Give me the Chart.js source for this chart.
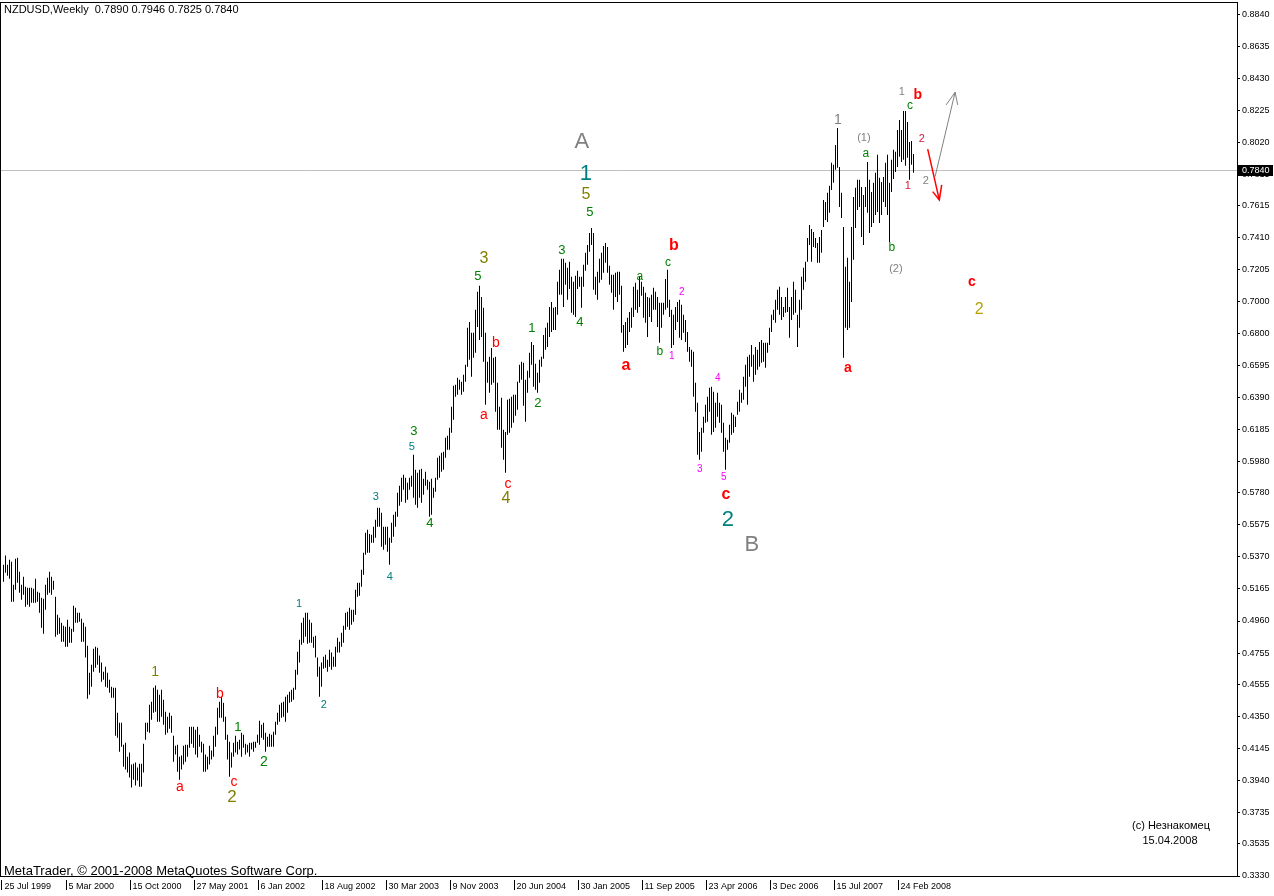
<!DOCTYPE html>
<html><head><meta charset="utf-8">
<script src="https://cdn.jsdelivr.net/npm/chart.js@4/dist/chart.umd.min.js"></script>
<style>html,body{margin:0;padding:0;background:#fff;overflow:hidden}#wrap{width:1274px;height:896px}</style>
</head><body><div id="wrap"><canvas id="c" width="1274" height="896"></canvas></div>
<script>
const headerText = 'NZDUSD,Weekly  0.7890 0.7946 0.7825 0.7840';
const copyrightText = 'MetaTrader, \u00A9 2001-2008 MetaQuotes Software Corp.';
const authorText = ['(c) Незнакомец', '15.04.2008'];
const lastPrice = 0.7840;

const highs = [
0.5320,0.5378,0.5320,0.5352,0.5339,0.5192,0.5358,0.5365,0.5275,0.5192,
0.5243,0.5179,0.5173,0.5173,0.5173,0.5166,0.5230,0.5147,0.5141,0.5109,
0.5102,0.5192,0.5237,0.5275,0.5243,0.5218,0.5115,0.5000,0.4981,0.4949,
0.4930,0.4923,0.4968,0.4923,0.4910,0.5058,0.5045,0.5013,0.5013,0.4974,
0.4949,0.4923,0.4802,0.4630,0.4681,0.4782,0.4795,0.4789,0.4739,0.4694,
0.4636,0.4668,0.4630,0.4585,0.4540,0.4534,0.4534,0.4374,0.4310,0.4310,
0.4169,0.4182,0.4093,0.4119,0.4042,0.4048,0.4055,0.4023,0.4048,0.4048,
0.4175,0.4310,0.4310,0.4425,0.4444,0.4534,0.4547,0.4521,0.4489,0.4521,
0.4457,0.4380,0.4348,0.4374,0.4355,0.4227,0.4163,0.4169,0.4093,0.4100,
0.4163,0.4169,0.4169,0.4284,0.4284,0.4284,0.4265,0.4284,0.4233,0.4188,
0.4175,0.4106,0.4093,0.4163,0.4132,0.4227,0.4284,0.4406,0.4444,0.4476,
0.4438,0.4348,0.4233,0.4188,0.4119,0.4182,0.4227,0.4188,0.4201,0.4246,
0.4233,0.4175,0.4169,0.4182,0.4182,0.4188,0.4188,0.4233,0.4323,0.4297,
0.4310,0.4246,0.4220,0.4239,0.4233,0.4252,0.4316,0.4374,0.4425,0.4438,
0.4444,0.4476,0.4489,0.4508,0.4521,0.4534,0.4649,0.4764,0.4840,0.4949,
0.4981,0.5013,0.5013,0.4968,0.4949,0.4859,0.4866,0.4726,0.4668,0.4694,
0.4732,0.4745,0.4713,0.4777,0.4758,0.4732,0.4795,0.4853,0.4827,0.4885,
0.4930,0.5013,0.5019,0.5045,0.5032,0.5032,0.5160,0.5205,0.5205,0.5288,
0.5397,0.5524,0.5543,0.5517,0.5511,0.5562,0.5607,0.5684,0.5684,0.5652,
0.5562,0.5562,0.5562,0.5492,0.5588,0.5639,0.5658,0.5780,0.5825,0.5876,
0.5895,0.5876,0.5844,0.5876,0.5889,0.6023,0.5927,0.5908,0.5927,0.5933,
0.5869,0.5914,0.5863,0.5850,0.5869,0.5812,0.5876,0.6004,0.6017,0.6036,
0.6042,0.6131,0.6144,0.6195,0.6329,0.6464,0.6470,0.6515,0.6502,0.6489,
0.6534,0.6598,0.6834,0.6872,0.6802,0.6802,0.6949,0.7064,0.7103,0.7032,
0.6962,0.6802,0.6617,0.6649,0.6706,0.6643,0.6649,0.6483,0.6329,0.6387,
0.6182,0.6169,0.6374,0.6380,0.6393,0.6406,0.6406,0.6489,0.6598,0.6617,
0.6611,0.6502,0.6560,0.6675,0.6744,0.6725,0.6604,0.6547,0.6630,0.6649,
0.6789,0.6834,0.6866,0.6968,0.7000,0.6962,0.6968,0.7128,0.7205,0.7275,
0.7275,0.7250,0.7218,0.7256,0.7160,0.7128,0.7167,0.7199,0.7160,0.7160,
0.7237,0.7314,0.7364,0.7441,0.7473,0.7441,0.7160,0.7192,0.7275,0.7314,
0.7358,0.7377,0.7351,0.7231,0.7173,0.7173,0.7186,0.7192,0.7192,0.7103,
0.6853,0.6872,0.6898,0.6936,0.6962,0.7096,0.7122,0.7077,0.7160,0.7128,
0.7096,0.7058,0.7032,0.7026,0.7045,0.7090,0.7064,0.7032,0.6994,0.6994,
0.6994,0.7147,0.7205,0.7013,0.6949,0.6917,0.6968,0.7000,0.7013,0.6981,
0.6917,0.6885,0.6808,0.6712,0.6694,0.6681,0.6483,0.6355,0.6169,0.6195,
0.6265,0.6342,0.6393,0.6451,0.6457,0.6425,0.6355,0.6419,0.6355,0.6342,
0.6227,0.6131,0.6118,0.6214,0.6291,0.6278,0.6265,0.6361,0.6438,0.6419,
0.6521,0.6598,0.6649,0.6662,0.6725,0.6662,0.6712,0.6694,0.6744,0.6757,
0.6738,0.6738,0.6738,0.6834,0.6917,0.6949,0.7013,0.7077,0.7096,0.7032,
0.6968,0.7032,0.7090,0.6968,0.7032,0.7128,0.7077,0.6917,0.7013,0.7160,
0.7218,0.7256,0.7409,0.7492,0.7466,0.7447,0.7409,0.7377,0.7415,0.7460,
0.7652,0.7639,0.7697,0.7742,0.7889,0.7876,0.8003,0.8112,0.7863,0.7697,
0.7479,0.7224,0.7282,0.7128,0.7479,0.7671,0.7729,0.7780,0.7780,0.7735,
0.7684,0.7735,0.7895,0.7780,0.7703,0.7761,0.7825,0.7940,0.7793,0.7767,
0.7799,0.7889,0.7940,0.7761,0.7908,0.7972,0.7959,0.8099,0.8163,0.8099,
0.8221,0.8221,0.8150,0.8022,0.8029,0.7946];

const lows = [
0.5211,0.5269,0.5250,0.5230,0.5083,0.5083,0.5160,0.5205,0.5141,0.5096,
0.5128,0.5051,0.5064,0.5051,0.5077,0.5077,0.5077,0.5083,0.5013,0.4917,
0.4878,0.5032,0.5128,0.5141,0.5128,0.5160,0.4859,0.4872,0.4878,0.4827,
0.4827,0.4795,0.4795,0.4821,0.4821,0.4891,0.4949,0.4949,0.4955,0.4827,
0.4827,0.4726,0.4463,0.4489,0.4540,0.4636,0.4662,0.4681,0.4630,0.4572,
0.4585,0.4540,0.4534,0.4502,0.4470,0.4470,0.4227,0.4214,0.4125,0.4156,
0.4029,0.4010,0.3991,0.3959,0.3895,0.3946,0.3908,0.3940,0.3901,0.3901,
0.3991,0.4201,0.4252,0.4246,0.4329,0.4374,0.4380,0.4316,0.4316,0.4348,
0.4297,0.4233,0.4246,0.4271,0.4246,0.4061,0.4106,0.3997,0.3946,0.4010,
0.4042,0.4061,0.4093,0.4150,0.4175,0.4150,0.4106,0.4087,0.4156,0.4119,
0.3997,0.3997,0.4010,0.4042,0.4074,0.4093,0.4156,0.4233,0.4342,0.4342,
0.4316,0.4201,0.4074,0.3965,0.4023,0.4093,0.4119,0.4106,0.4138,0.4093,
0.4150,0.4106,0.4119,0.4093,0.4138,0.4125,0.4150,0.4182,0.4169,0.4214,
0.4201,0.4125,0.4156,0.4156,0.4156,0.4156,0.4233,0.4297,0.4316,0.4342,
0.4348,0.4316,0.4374,0.4438,0.4444,0.4457,0.4521,0.4617,0.4694,0.4808,
0.4821,0.4859,0.4814,0.4821,0.4821,0.4789,0.4726,0.4604,0.4476,0.4540,
0.4655,0.4662,0.4636,0.4668,0.4649,0.4668,0.4668,0.4758,0.4758,0.4795,
0.4821,0.4904,0.4923,0.4904,0.4936,0.4955,0.5000,0.5115,0.5122,0.5179,
0.5256,0.5384,0.5397,0.5397,0.5460,0.5460,0.5492,0.5562,0.5562,0.5434,
0.5416,0.5447,0.5403,0.5320,0.5460,0.5498,0.5562,0.5626,0.5697,0.5722,
0.5799,0.5716,0.5735,0.5799,0.5818,0.5748,0.5703,0.5684,0.5748,0.5716,
0.5767,0.5825,0.5799,0.5626,0.5639,0.5748,0.5786,0.5863,0.5876,0.5914,
0.5927,0.6004,0.6055,0.6055,0.6163,0.6246,0.6393,0.6406,0.6438,0.6406,
0.6425,0.6489,0.6585,0.6630,0.6521,0.6643,0.6675,0.6840,0.6757,0.6776,
0.6617,0.6342,0.6483,0.6419,0.6470,0.6483,0.6297,0.6182,0.6182,0.6067,
0.5991,0.5908,0.6150,0.6163,0.6195,0.6227,0.6272,0.6310,0.6483,0.6502,
0.6336,0.6233,0.6419,0.6515,0.6598,0.6457,0.6438,0.6419,0.6483,0.6585,
0.6636,0.6694,0.6712,0.6776,0.6808,0.6821,0.6821,0.6917,0.7045,0.7045,
0.6968,0.7109,0.7013,0.7083,0.6930,0.6917,0.6904,0.7083,0.7096,0.6962,
0.7096,0.7199,0.7237,0.7320,0.7364,0.7077,0.7045,0.7013,0.7122,0.7141,
0.7186,0.7250,0.7186,0.7109,0.7058,0.6949,0.7032,0.7000,0.7045,0.6802,
0.6681,0.6706,0.6725,0.6808,0.6834,0.6904,0.6949,0.6930,0.6968,0.7039,
0.6898,0.6866,0.6776,0.6904,0.6872,0.6949,0.6949,0.6840,0.6738,0.6834,
0.6917,0.6949,0.6962,0.6904,0.6706,0.6725,0.6821,0.6872,0.6770,0.6757,
0.6802,0.6744,0.6681,0.6617,0.6585,0.6393,0.6297,0.6023,0.5991,0.6042,
0.6163,0.6227,0.6233,0.6297,0.6150,0.6169,0.6195,0.6265,0.6227,0.6163,
0.6042,0.5927,0.6055,0.6099,0.6150,0.6163,0.6201,0.6278,0.6297,0.6355,
0.6374,0.6457,0.6342,0.6521,0.6585,0.6489,0.6534,0.6566,0.6585,0.6611,
0.6617,0.6579,0.6675,0.6725,0.6808,0.6885,0.6866,0.6949,0.6917,0.6885,
0.6904,0.6930,0.6936,0.6770,0.6885,0.6917,0.6930,0.6712,0.6834,0.6949,
0.7077,0.7128,0.7256,0.7364,0.7256,0.7351,0.7345,0.7250,0.7250,0.7314,
0.7479,0.7524,0.7511,0.7569,0.7716,0.7761,0.7844,0.7857,0.7607,0.7537,
0.6643,0.6834,0.6821,0.6834,0.7000,0.7269,0.7473,0.7588,0.7607,0.7415,
0.7364,0.7607,0.7569,0.7441,0.7479,0.7505,0.7556,0.7575,0.7505,0.7556,
0.7639,0.7607,0.7556,0.7383,0.7703,0.7786,0.7831,0.7863,0.7927,0.7895,
0.7908,0.7870,0.7921,0.7780,0.7876,0.7825];

const dateTickBars = [0,32,64,96,128,160,192,224,256,288,320,352,384,416,448];
const dateLabels = ['25 Jul 1999','5 Mar 2000','15 Oct 2000','27 May 2001','6 Jan 2002','18 Aug 2002','30 Mar 2003','9 Nov 2003','20 Jun 2004','30 Jan 2005','11 Sep 2005','23 Apr 2006','3 Dec 2006','15 Jul 2007','24 Feb 2008'];
const priceTicks = [0.8840,0.8635,0.8430,0.8225,0.8020,0.7815,0.7615,0.7410,0.7205,0.7000,0.6800,0.6595,0.6390,0.6185,0.5980,0.5780,0.5575,0.5370,0.5165,0.4960,0.4755,0.4555,0.4350,0.4145,0.3940,0.3735,0.3535,0.3330];

// wave labels: [text, bar position, price, colour, font size, bold]
const RED='#FF0000', GRN='#008000', TEAL='#008080', OLV='#808000', GRY='#808080', MAG='#FF00FF', CRM='#DC143C', GLD='#B8A000';
const waveLabels = [
 ['1',75.8,0.4636,OLV,14,false],['a',88.2,0.3895,RED,14,false],['b',108.2,0.4495,RED,14,false],
 ['c',115.2,0.3933,RED,14,false],['2',114.2,0.3831,OLV,17,false],['1',117.2,0.4278,GRN,13,false],
 ['2',130.2,0.4061,GRN,14,false],['1',147.8,0.5070,TEAL,11,false],['2',160.2,0.4425,TEAL,11,false],
 ['3',186.2,0.5754,TEAL,11,false],['4',193.2,0.5243,TEAL,11,false],['5',204.2,0.6074,TEAL,11,false],
 ['3',205.2,0.6170,GRN,13,false],['4',213.2,0.5582,GRN,13,false],['3',240.2,0.7275,OLV,16,false],
 ['5',237.2,0.7160,GRN,13,false],['b',246.2,0.6738,RED,14,false],['a',240.2,0.6278,RED,14,false],
 ['c',252.2,0.5837,RED,14,false],['4',251.2,0.5741,OLV,16,false],['1',264.2,0.6828,GRN,13,false],
 ['2',267.2,0.6348,GRN,13,false],['3',279.2,0.7332,GRN,13,false],['4',288.2,0.6866,GRN,13,false],
 ['A',289.2,0.8023,GRY,22,false],['1',291.2,0.7818,TEAL,22,false],['5',291.2,0.7684,OLV,16,false],
 ['5',293.2,0.7575,GRN,13,false],['b',335.2,0.7358,RED,16,true],['a',318.2,0.7160,GRN,12,false],
 ['c',332.2,0.7249,GRN,12,false],['a',311.2,0.6591,RED,16,true],['b',328.2,0.6681,GRN,12,false],
 ['1',334.2,0.6655,MAG,10,false],['2',339.2,0.7064,MAG,10,false],['4',357.2,0.6515,MAG,10,false],
 ['3',348.2,0.5933,MAG,10,false],['5',360.2,0.5882,MAG,10,false],['c',361.2,0.5767,RED,16,true],
 ['2',362.2,0.5607,TEAL,22,false],['B',374.2,0.5447,GRY,22,false],['1',417.2,0.8163,GRY,14,false],
 ['(1)',430.2,0.8048,GRY,11,false],['a',431.2,0.7946,GRN,12,false],['b',444.2,0.7345,GRN,12,false],
 ['(2)',446.2,0.7211,GRY,11,false],['a',422.2,0.6578,RED,14,true],['1',449.2,0.8342,GRY,11,false],
 ['b',457.2,0.8323,RED,14,true],['c',453.2,0.8253,GRN,12,false],['2',459.2,0.8042,CRM,11,false],
 ['1',452.2,0.7741,CRM,11,false],['2',461.2,0.7773,GRY,11,false],['c',484.2,0.7128,RED,14,true],
 ['2',487.8,0.6949,GLD,16,false]
];
// hand-drawn arrows: polylines in (bar position, price)
const arrows = [
 {color:'#FF0000', width:1.5, lines:[[[462.1,0.7976],[467.9,0.7652]],[[464.6,0.7705],[467.9,0.7652],[469.1,0.7748]]]},
 {color:'#808080', width:1, lines:[[[465.8,0.7801],[475.8,0.8340]],[[471.3,0.8259],[475.8,0.8340],[477.1,0.8259]]]}
];

const AX_FONT = "'Liberation Sans',Arial,sans-serif";
const TXT_FONT = "'Liberation Sans',Arial,sans-serif";

const overlay = {
  id:'overlay',
  beforeDatasetsDraw(chart){
    const {ctx, chartArea:a, scales:{y}} = chart;
    const py = Math.round(y.getPixelForValue(lastPrice)) + 0.5;
    ctx.save(); ctx.strokeStyle='#C0C0C0'; ctx.lineWidth=1;
    ctx.beginPath(); ctx.moveTo(a.left, py); ctx.lineTo(a.right, py); ctx.stroke(); ctx.restore();
  },
  afterDraw(chart){
    const {ctx, chartArea:a, scales:{x,y}} = chart;
    ctx.save();
    ctx.strokeStyle='#000'; ctx.lineWidth=1;
    ctx.strokeRect(a.left+0.5, a.top+0.5, a.right-a.left, a.bottom-a.top);
    ctx.beginPath();
    dateTickBars.forEach(v=>{ const px=Math.round(x.getPixelForValue(v))-1.5; ctx.moveTo(px,880); ctx.lineTo(px,890); });
    ctx.stroke();
    ctx.textAlign='center'; ctx.textBaseline='middle';
    waveLabels.forEach(([t,i,p,c,s,b])=>{
      ctx.fillStyle=c; ctx.font=(b?'bold ':'')+s+'px '+TXT_FONT;
      ctx.fillText(t, x.getPixelForValue(i), y.getPixelForValue(p));
    });
    arrows.forEach(ar=>{
      ctx.strokeStyle=ar.color; ctx.lineWidth=ar.width;
      ar.lines.forEach(l=>{ ctx.beginPath(); l.forEach(([i,p],k)=>{ const X=x.getPixelForValue(i),Y=y.getPixelForValue(p); k?ctx.lineTo(X,Y):ctx.moveTo(X,Y);}); ctx.stroke(); });
    });
    ctx.fillStyle='#000'; ctx.textAlign='left'; ctx.textBaseline='top';
    ctx.font='11px '+TXT_FONT; ctx.fillText(headerText, 4, 4);
    ctx.textBaseline='alphabetic'; ctx.font='13px '+TXT_FONT; ctx.fillText(copyrightText, 4, a.bottom-1);
    ctx.textAlign='center'; ctx.textBaseline='middle'; ctx.font='11px '+TXT_FONT;
    ctx.fillText(authorText[0], 1171, 826); ctx.fillText(authorText[1], 1170, 841);
    const py = Math.round(y.getPixelForValue(lastPrice));
    ctx.fillStyle='#000'; ctx.fillRect(a.right+1, py-5, 35, 11);
    ctx.fillStyle='#fff'; ctx.textAlign='left'; ctx.font='9px '+AX_FONT;
    ctx.fillText(lastPrice.toFixed(4), a.right+5, py+0.5);
    ctx.restore();
  }
};

const bars = highs.map((h,i)=>({x:i, y:[lows[i], h]}));
new Chart(document.getElementById('c'), {
  type:'bar',
  data:{datasets:[{data:bars, backgroundColor:'#000', borderWidth:0, barThickness:1, inflateAmount:0, grouped:false}]},
  options:{
    responsive:false, animation:false, devicePixelRatio:1,
    layout:{padding:{top:2,left:0,right:0,bottom:0}},
    plugins:{legend:{display:false}, tooltip:{enabled:false}},
    scales:{
      x:{type:'linear', min:-1.75, max:616.75, offset:false,
         afterBuildTicks:s=>{ s.ticks = dateTickBars.map(v=>({value:v})); },
         afterFit:s=>{ s.height = 20; s.paddingLeft = 0; s.paddingRight = 0; },
         ticks:{autoSkip:false, maxRotation:0, align:'start', labelOffset:1, padding:5, color:'#000',
                font:{family:AX_FONT, size:9}, callback:v=>dateLabels[dateTickBars.indexOf(v)]},
         grid:{drawOnChartArea:false, drawTicks:false, offset:false},
         border:{display:true, color:'#000'}},
      y:{type:'linear', position:'right', min:0.3330, max:0.8917,
         afterBuildTicks:s=>{ s.ticks = priceTicks.map(v=>({value:v})); },
         afterFit:s=>{ s.width = 37; s.paddingTop = 0; s.paddingBottom = 0; },
         ticks:{autoSkip:false, padding:2, color:'#000', font:{family:AX_FONT, size:9}, callback:v=>v.toFixed(4)},
         grid:{drawOnChartArea:false, drawTicks:true, tickLength:3, tickColor:'#000'},
         border:{display:true, color:'#000'}}
    }
  },
  plugins:[overlay]
});
</script></body></html>
